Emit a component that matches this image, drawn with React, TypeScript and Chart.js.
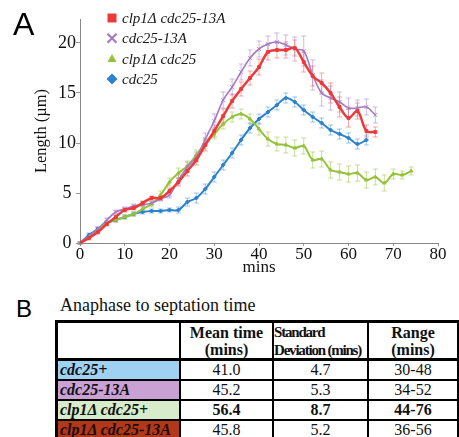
import React, { useEffect, useRef } from 'react';
import { Chart, registerables } from 'chart.js';

Chart.register(...registerables);

// ---------- DATA ----------
const minutes = [0, 2, 4, 6, 8, 10, 12, 14, 16, 18, 20, 22, 24, 26, 28, 30, 32, 34, 36, 38, 40, 42, 44, 46, 48, 50, 52, 54, 56, 58, 60, 62, 64, 66, 68, 70, 72, 74];

const seriesLabels = ['clp1Δ cdc25-13A', 'cdc25-13A', 'clp1Δ cdc25', 'cdc25'];

const clp1Cdc2513A = [0, 0.5, 1.1, 1.9, 2.6, 3.3, 3.5, 4.0, 4.5, 4.5, 5.2, 6.1, 7.2, 8.3, 9.8, 11.2, 12.7, 14.2, 15.4, 16.5, 17.6, 19.1, 19.3, 19.3, 19.5, 18.1, 16.7, 16.0, 15.0, 13.6, 12.5, 13.2, 11.2, 11.1];
const clp1Cdc2513AErr = [0.1, 0.2, 0.2, 0.2, 0.2, 0.2, 0.2, 0.2, 0.2, 0.2, 0.3, 0.4, 0.5, 0.5, 0.6, 0.6, 0.7, 0.7, 0.7, 0.7, 0.8, 0.8, 0.8, 0.8, 0.8, 1.0, 1.0, 1.0, 1.0, 1.0, 0.9, 0.8, 0.6, 0.5];

const cdc2513A = [0, 0.7, 1.4, 2.3, 3.1, 3.4, 3.7, 3.8, 4.0, 4.4, 4.8, 6.3, 7.6, 8.6, 10.4, 12.2, 14.3, 15.6, 17.1, 18.5, 19.4, 19.9, 20.1, 19.8, 19.4, 19.2, 16.8, 15.0, 14.5, 14.1, 13.5, 13.5, 13.6, 12.8];
const cdc2513AErr = [0.1, 0.2, 0.2, 0.2, 0.2, 0.2, 0.2, 0.2, 0.2, 0.2, 0.3, 0.5, 0.5, 0.5, 0.6, 0.7, 0.8, 0.8, 0.8, 0.8, 0.8, 0.8, 0.9, 1.0, 1.2, 1.5, 1.5, 1.3, 1.2, 1.0, 1.0, 0.8, 0.8, 0.8];

const clp1Cdc25 = [0, 0.6, 1.3, 2.0, 2.3, 2.6, 2.9, 3.4, 3.9, 4.8, 6.1, 7.0, 7.7, 8.8, 9.9, 10.9, 11.9, 12.6, 12.9, 12.4, 11.4, 10.4, 9.9, 9.8, 9.5, 9.7, 8.3, 8.4, 7.3, 7.1, 6.9, 7.0, 6.3, 6.6, 6.0, 6.9, 6.8, 7.2];
const clp1Cdc25Err = [0.1, 0.2, 0.2, 0.2, 0.2, 0.2, 0.2, 0.3, 0.3, 0.4, 0.4, 0.5, 0.5, 0.5, 0.5, 0.5, 0.5, 0.5, 0.5, 0.5, 0.6, 0.7, 0.7, 0.8, 0.8, 0.8, 0.8, 0.8, 0.8, 0.8, 0.8, 0.8, 0.8, 0.8, 0.8, 0.5, 0.4, 0.4];

const cdc25 = [0, 0.8, 1.4, 2.0, 2.3, 2.6, 2.9, 3.1, 3.2, 3.2, 3.3, 3.3, 4.1, 4.5, 5.4, 6.6, 7.8, 9.0, 10.3, 11.5, 12.4, 13.1, 13.8, 14.5, 14.1, 13.3, 12.6, 12.0, 11.3, 10.9, 10.5, 9.9, 10.3];
const cdc25Err = [0.1, 0.2, 0.2, 0.2, 0.2, 0.2, 0.2, 0.2, 0.2, 0.2, 0.2, 0.3, 0.4, 0.5, 0.5, 0.5, 0.5, 0.5, 0.5, 0.5, 0.5, 0.5, 0.5, 0.5, 0.5, 0.5, 0.5, 0.5, 0.5, 0.5, 0.5, 0.5, 0.5];

const xTickValues = [0, 10, 20, 30, 40, 50, 60, 70, 80];
const yTickValues = [0, 5, 10, 15, 20];

const strains = ['cdc25+', 'cdc25-13A', 'clp1Δ cdc25+', 'clp1Δ cdc25-13A'];
const meanTimes = ['41.0', '45.2', '56.4', '45.8'];
const stdDevs = ['4.7', '5.3', '8.7', '5.2'];
const ranges = ['30-48', '34-52', '44-76', '36-56'];
const boldRows = [false, false, true, false];

// ---------- STYLES ----------
const SERIF = "'Liberation Serif', 'Times New Roman', serif";
const SANS = "'Liberation Sans', Arial, sans-serif";

const seriesStyles = [
  { color: 'rgb(236,58,58)', err: 'rgba(236,58,58,0.45)', width: 2.5, point: 'rect', radius: 2, marker: 'square' },
  { color: 'rgb(166,120,196)', err: 'rgba(166,120,196,0.5)', width: 1.6, point: 'crossRot', radius: 2.5, marker: 'x' },
  { color: 'rgb(150,194,58)', err: 'rgba(150,194,58,0.5)', width: 2, point: 'triangle', radius: 2, marker: 'triangle' },
  { color: 'rgb(44,130,206)', err: 'rgba(44,130,206,0.45)', width: 2, point: 'rectRot', radius: 2, marker: 'diamond' },
];

const seriesValues = [clp1Cdc2513A, cdc2513A, clp1Cdc25, cdc25];
const seriesErrors = [clp1Cdc2513AErr, cdc2513AErr, clp1Cdc25Err, cdc25Err];

const errorBarPlugin = {
  id: 'errorBars',
  beforeDatasetsDraw(chart: any) {
    const ctx = chart.ctx;
    const yScale = chart.scales.y;
    chart.data.datasets.forEach((ds: any, i: number) => {
      const meta = chart.getDatasetMeta(i);
      ctx.save();
      ctx.strokeStyle = ds.errorColor;
      ctx.lineWidth = 1;
      meta.data.forEach((pt: any, j: number) => {
        const v = ds.data[j].y;
        const e = ds.errors[j];
        const yt = yScale.getPixelForValue(v + e);
        const yb = yScale.getPixelForValue(v - e);
        const x = pt.x;
        ctx.beginPath();
        ctx.moveTo(x, yt);
        ctx.lineTo(x, yb);
        ctx.moveTo(x - 2.5, yt);
        ctx.lineTo(x + 2.5, yt);
        ctx.moveTo(x - 2.5, yb);
        ctx.lineTo(x + 2.5, yb);
        ctx.stroke();
      });
      ctx.restore();
    });
  },
};

const legendPlugin = {
  id: 'customLegend',
  afterDraw(chart: any) {
    const ctx = chart.ctx;
    const { left, top } = chart.chartArea;
    chart.data.datasets.forEach((ds: any, i: number) => {
      const cy = top - 1 + i * 20.3;
      const cx = left + 32;
      ctx.save();
      ctx.fillStyle = ds.borderColor;
      ctx.strokeStyle = ds.borderColor;
      const m = ds.legendMarker;
      if (m === 'square') {
        ctx.fillRect(cx - 4.5, cy - 4.5, 9, 9);
      } else if (m === 'x') {
        ctx.lineWidth = 2.2;
        ctx.beginPath();
        ctx.moveTo(cx - 4.5, cy - 4.5);
        ctx.lineTo(cx + 4.5, cy + 4.5);
        ctx.moveTo(cx + 4.5, cy - 4.5);
        ctx.lineTo(cx - 4.5, cy + 4.5);
        ctx.stroke();
      } else if (m === 'triangle') {
        ctx.beginPath();
        ctx.moveTo(cx, cy - 4.5);
        ctx.lineTo(cx - 4.5, cy + 3.5);
        ctx.lineTo(cx + 4.5, cy + 3.5);
        ctx.closePath();
        ctx.fill();
      } else {
        ctx.beginPath();
        ctx.moveTo(cx, cy - 5.5);
        ctx.lineTo(cx + 5.5, cy);
        ctx.lineTo(cx, cy + 5.5);
        ctx.lineTo(cx - 5.5, cy);
        ctx.closePath();
        ctx.fill();
      }
      ctx.fillStyle = '#1a1a1a';
      ctx.font = `italic 15px ${SERIF}`;
      ctx.textBaseline = 'middle';
      ctx.textAlign = 'left';
      ctx.fillText(ds.label, left + 42, cy + 1);
      ctx.restore();
    });
  },
};

function LineChart() {
  const ref = useRef<HTMLCanvasElement | null>(null);
  useEffect(() => {
    if (!ref.current) return;
    const datasets = seriesValues.map((vals, i) => ({
      label: seriesLabels[i],
      data: vals.map((v, j) => ({ x: minutes[j], y: v })),
      errors: seriesErrors[i],
      errorColor: seriesStyles[i].err,
      legendMarker: seriesStyles[i].marker,
      borderColor: seriesStyles[i].color,
      backgroundColor: seriesStyles[i].color,
      borderWidth: seriesStyles[i].width,
      pointStyle: seriesStyles[i].point,
      pointRadius: seriesStyles[i].radius,
      pointBorderWidth: 1,
      tension: 0.35,
      fill: false,
    }));
    const chart = new Chart(ref.current, {
      type: 'line',
      data: { datasets } as any,
      plugins: [errorBarPlugin, legendPlugin],
      options: {
        animation: false,
        responsive: false,
        devicePixelRatio: 1,
        layout: { padding: { left: 32, top: 19, right: 21, bottom: 7 } },
        plugins: { legend: { display: false }, tooltip: { enabled: false } },
        scales: {
          x: {
            type: 'linear',
            min: 0,
            max: 80,
            afterBuildTicks: (axis: any) => {
              axis.ticks = xTickValues.map((v) => ({ value: v }));
            },
            afterFit: (scale: any) => {
              scale.height = 35;
            },
            ticks: { font: { family: SERIF, size: 17 }, color: '#111', padding: -2, maxRotation: 0 },
            grid: { drawOnChartArea: false, drawTicks: true, tickLength: 3, color: '#999' },
            border: { color: '#888', width: 1 },
            title: { display: true, text: 'mins', font: { family: SERIF, size: 17 }, color: '#111', padding: { top: 0, bottom: 0 } },
          },
          y: {
            type: 'linear',
            min: 0,
            max: 22.4,
            afterBuildTicks: (axis: any) => {
              axis.ticks = yTickValues.map((v) => ({ value: v }));
            },
            afterFit: (scale: any) => {
              scale.width = 48;
            },
            ticks: { font: { family: SERIF, size: 18 }, color: '#111', padding: 0, crossAlign: 'center' },
            grid: { drawOnChartArea: false, drawTicks: true, tickLength: 4, color: '#999' },
            border: { color: '#888', width: 1 },
            title: { display: true, text: 'Length (µm)', font: { family: SERIF, size: 16.5 }, color: '#111', padding: { top: 0, bottom: 0 } },
          },
        },
      } as any,
    });
    return () => chart.destroy();
  }, []);
  return <canvas ref={ref} width={459} height={285} style={{ position: 'absolute', left: 0, top: 0, width: 459, height: 285 }} />;
}

// table geometry
const colX = [58, 181, 274, 369];
const colW = [121, 91, 93, 88];
const rowY = [323, 361, 381, 401, 421];
const rowH = [35, 18, 18, 18, 18];
const strainFill = ['#9fd2f2', '#c9a1d4', '#d6ecca', '#b3381a'];
const strainText = ['#111', '#111', '#111', '#1a0a05'];

function Table() {
  const cells: React.ReactNode[] = [];
  const base: React.CSSProperties = {
    position: 'absolute',
    background: '#fff',
    fontFamily: SERIF,
    color: '#111',
    display: 'flex',
    alignItems: 'center',
    boxSizing: 'border-box',
  };
  cells.push(<div key="h0" style={{ ...base, left: colX[0], top: rowY[0], width: colW[0], height: rowH[0] }} />);
  cells.push(
    <div key="h1" style={{ ...base, left: colX[1], top: rowY[0], width: colW[1], height: rowH[0], justifyContent: 'center', textAlign: 'center', fontWeight: 'bold', fontSize: 16, lineHeight: '17px' }}>
      <span>Mean time<br />(mins)</span>
    </div>
  );
  cells.push(
    <div key="h2" style={{ ...base, left: colX[2], top: rowY[0], width: colW[2], height: rowH[0], justifyContent: 'flex-start', textAlign: 'left', fontWeight: 'bold', fontSize: 15, lineHeight: '18px', letterSpacing: '-1.2px', whiteSpace: 'nowrap' }}>
      <span>Standard<br />Deviation (mins)</span>
    </div>
  );
  cells.push(
    <div key="h3" style={{ ...base, left: colX[3], top: rowY[0], width: colW[3], height: rowH[0], justifyContent: 'center', textAlign: 'center', fontWeight: 'bold', fontSize: 16, lineHeight: '17px' }}>
      <span>Range<br />(mins)</span>
    </div>
  );
  strains.forEach((s, i) => {
    const y = rowY[i + 1];
    const h = rowH[i + 1];
    const fw = boldRows[i] ? 'bold' : 'normal';
    cells.push(
      <div key={'s' + i} style={{ ...base, left: colX[0], top: y, width: colW[0], height: h, background: strainFill[i], color: strainText[i], fontWeight: 'bold', fontStyle: 'italic', fontSize: 16, paddingLeft: 2, whiteSpace: 'nowrap' }}>
        {s}
      </div>
    );
    [meanTimes[i], stdDevs[i], ranges[i]].forEach((v, k) => {
      cells.push(
        <div key={'v' + i + '_' + k} style={{ ...base, left: colX[k + 1], top: y, width: colW[k + 1], height: h, justifyContent: 'center', fontSize: 16, fontWeight: fw }}>
          {v}
        </div>
      );
    });
  });
  return (
    <div style={{ position: 'absolute', left: 0, top: 0, width: 459, height: 437 }}>
      <div style={{ position: 'absolute', left: 55, top: 320, width: 405, height: 125, background: '#000' }} />
      {cells}
    </div>
  );
}

export default function App() {
  return (
    <div style={{ position: 'fixed', left: 0, top: 0, width: 459, height: 437, background: '#fff', overflow: 'hidden' }}>
      <LineChart />
      <div style={{ position: 'absolute', left: 13, top: 8, fontFamily: SANS, fontSize: 32, lineHeight: '32px', color: '#000' }}>A</div>
      <div style={{ position: 'absolute', left: 16, top: 297, fontFamily: SANS, fontSize: 24, lineHeight: '24px', color: '#000' }}>B</div>
      <div style={{ position: 'absolute', left: 60, top: 296, fontFamily: SERIF, fontSize: 18, lineHeight: '18px', color: '#111', whiteSpace: 'nowrap' }}>Anaphase to septation time</div>
      <Table />
    </div>
  );
}
